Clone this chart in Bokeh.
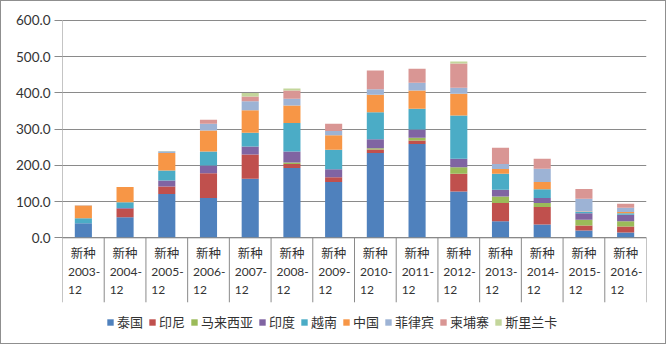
from bokeh.plotting import figure
from bokeh.models import (ColumnDataSource, Range1d, FixedTicker, NumeralTickFormatter,
                          Legend, LegendItem)
from bokeh.core.properties import value
from bokeh.embed import file_html
from bokeh.resources import INLINE

# ---- data ----
years = ["2003-12", "2004-12", "2005-12", "2006-12", "2007-12", "2008-12", "2009-12",
         "2010-12", "2011-12", "2012-12", "2013-12", "2014-12", "2015-12", "2016-12"]
sub_label = "新种"
series_names = ["泰国", "印尼", "马来西亚", "印度", "越南", "中国", "菲律宾", "柬埔寨", "斯里兰卡"]
thailand    = [40, 57, 121, 110, 163, 193, 154, 234, 259, 128, 46, 37, 20, 15]
indonesia   = [0, 23, 21, 68, 67, 11, 13, 10, 10, 49, 50, 48, 14, 16]
malaysia    = [0, 0, 0, 0, 0, 4, 0, 3, 7, 18, 18, 11, 16, 15]
india       = [0, 2, 16, 22, 22, 30, 22, 25, 23, 23, 19, 14, 18, 18]
vietnam     = [14, 16, 28, 38, 38, 79, 54, 75, 57, 120, 44, 24, 3, 4]
china       = [35, 42, 48, 58, 62, 48, 40, 48, 51, 60, 13, 20, 2, 3]
philippines = [1, 0, 5, 19, 25, 19, 12, 15, 21, 16, 14, 37, 35, 12]
cambodia    = [0, 0, 0, 11, 13, 23, 20, 52, 39, 67, 45, 27, 27, 11]
srilanka    = [0, 0, 1, 0, 10, 5, 0, 0, 0, 6, 0, 0, 0, 0]
y_ticks = [0, 100, 200, 300, 400, 500, 600]

colors = ["#4F81BD", "#C0504D", "#9BBB59", "#8064A2", "#4BACC6", "#F79646",
          "#9DB3D5", "#D99694", "#C3D69B"]

n = len(years)
keys = ["s%d" % i for i in range(len(series_names))]
values_list = [thailand, indonesia, malaysia, india, vietnam, china, philippines, cambodia, srilanka]
data = {"x": [i + 0.5 for i in range(n)]}
for k, v in zip(keys, values_list):
    data[k] = v
source = ColumnDataSource(data)

GRID = "#8a8a8a"
TXT = "#333333"
CJK = "Noto Sans CJK SC"
NUM = "Lato"

p = figure(width=666, height=344, output_backend="svg", toolbar_location=None,
           x_range=Range1d(0, n), y_range=Range1d(-283.5, 613.8),
           x_axis_location=None, min_border_left=61, min_border_right=21,
           min_border_top=14, min_border_bottom=5)
p.styles = {"border": "1px solid #8f8f8f"}
p.outline_line_color = None
p.xgrid.visible = False
p.ygrid.grid_line_color = GRID
p.ygrid.ticker = FixedTicker(ticks=y_ticks)

ax = p.yaxis[0]
ax.ticker = FixedTicker(ticks=y_ticks)
ax.formatter = NumeralTickFormatter(format="0.0")
ax.axis_line_color = None
ax.major_tick_line_color = GRID
ax.major_tick_out = 8
ax.major_tick_in = 0
ax.minor_tick_line_color = None
ax.major_label_standoff = 4
ax.major_label_text_font = NUM
ax.major_label_text_font_size = "13.5px"
ax.major_label_text_color = TXT

renderers = p.vbar_stack(keys, x="x", width=0.41, source=source, color=colors, line_color=None)

# axis lines and category separators
sep_bottom = -178.0
xs = list(range(n + 1))
p.segment(x0=[0], y0=[600], x1=[0], y1=[sep_bottom], line_color=GRID, line_width=1)
p.segment(x0=xs[1:], y0=[0] * n, x1=xs[1:], y1=[sep_bottom] * n, line_color=GRID, line_width=1)
p.segment(x0=[0], y0=[0], x1=[n], y1=[0], line_color=GRID, line_width=1)

# category labels
p.text(x=[i + 0.5 for i in range(n)], y=[-40.5] * n, text=[sub_label] * n,
       text_align="center", text_baseline="middle", text_font=value(CJK),
       text_font_size="12.5px", text_color=TXT)
p.text(x=[i + 0.13 for i in range(n)], y=[-95] * n, text=[y[:5] for y in years],
       text_align="left", text_baseline="middle", text_font=value(NUM),
       text_font_size="12px", text_color=TXT)
p.text(x=[i + 0.13 for i in range(n)], y=[-145] * n, text=[y[5:] for y in years],
       text_align="left", text_baseline="middle", text_font=value(NUM),
       text_font_size="12px", text_color=TXT)

legend = Legend(items=[LegendItem(label=nm, renderers=[r]) for nm, r in zip(series_names, renderers)],
                orientation="horizontal", location=(44, 9), padding=0, margin=0,
                spacing=5, label_standoff=3, glyph_width=8, glyph_height=8,
                label_text_font=CJK, label_text_font_size="13px", label_text_color=TXT,
                background_fill_alpha=0, border_line_color=None)
p.add_layout(legend)

open("out.html", "w").write(file_html(p, INLINE))
